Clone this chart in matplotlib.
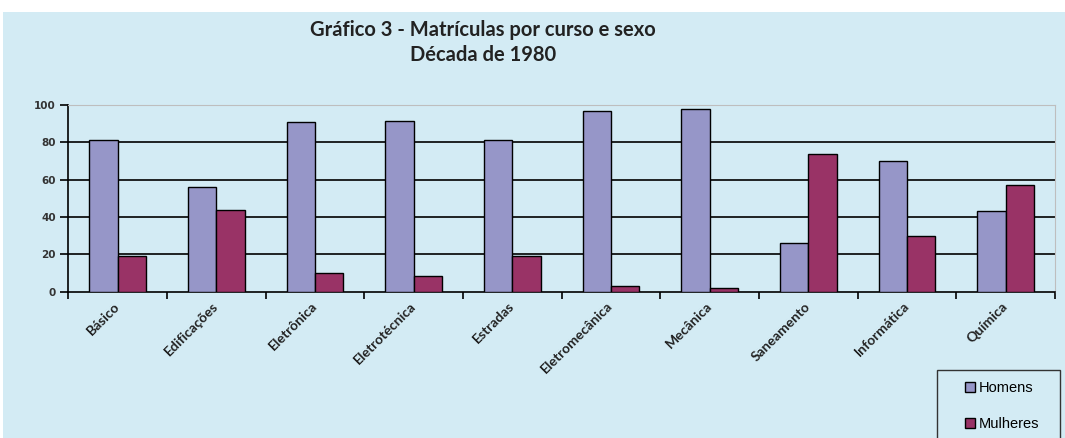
import numpy as np
import matplotlib
matplotlib.use("Agg")
import matplotlib.pyplot as plt
from matplotlib.patches import Rectangle

# data
cursos = ['Básico', 'Edificações', 'Eletrônica', 'Eletrotécnica', 'Estradas',
          'Eletromecânica', 'Mecânica', 'Saneamento', 'Informática', 'Química']
homens = [81, 56, 91, 91.5, 81, 97, 98, 26, 70, 43]
mulheres = [19, 44, 10, 8.5, 19, 3, 2, 74, 30, 57]
yticks = [0, 20, 40, 60, 80, 100]

bg = '#D3EBF4'
cor_h = '#9696C8'
cor_m = '#993366'

W, H = 1065, 438
fig = plt.figure(figsize=(W / 100, H / 100), dpi=100, facecolor='white')

# light blue chart area
fig.patches.append(Rectangle((3 / W, 0), 1, (H - 12) / H, transform=fig.transFigure,
                             facecolor=bg, edgecolor='none', zorder=-10))

ax = fig.add_axes([68.3 / W, (H - 291.7) / H, (1055 - 68.3) / W, (291.7 - 105) / H])
ax.set_facecolor(bg)

x = np.arange(len(cursos))
bw = 0.287
ax.bar(x - bw / 2, homens, bw, color=cor_h, edgecolor='black', linewidth=1.0, label='Homens', zorder=3)
ax.bar(x + bw / 2, mulheres, bw, color=cor_m, edgecolor='black', linewidth=1.0, label='Mulheres', zorder=3)

ax.set_xlim(-0.5, len(cursos) - 0.5)
ax.set_ylim(0, 100)
ax.set_yticks(yticks)
ax.set_yticklabels([str(v) for v in yticks], fontsize=7.5, fontweight='bold',
                   family='DejaVu Sans', color='#333333')
for v in yticks[1:-1]:
    ax.axhline(v, color='black', linewidth=1.2, zorder=1)

ax.set_xticks(np.arange(-0.5, len(cursos), 1))
ax.set_xticklabels([])
ax.set_xticks(x, minor=True)
ax.set_xticklabels(cursos, minor=True, rotation=45, ha='right', va='center',
                   rotation_mode='anchor', fontsize=10, fontweight='bold', family='Lato',
                   color='#222222')
ax.tick_params(axis='x', which='minor', length=0, pad=9)
ax.tick_params(axis='x', which='major', length=5, width=1.2, direction='out')
ax.tick_params(axis='y', length=6, width=1.2, direction='out', pad=3)

ax.spines['left'].set_linewidth(1.2)
ax.spines['bottom'].set_linewidth(1.2)
ax.spines['top'].set_color('#BEBEBE')
ax.spines['right'].set_color('#BEBEBE')

fig.text(483 / W, 1 - 30 / H, 'Gráfico 3 - Matrículas por curso e sexo', ha='center', va='center',
         fontsize=14.5, fontweight='bold', family='Lato', color='#222222')
fig.text(483 / W, 1 - 55 / H, 'Década de 1980', ha='center', va='center',
         fontsize=14.5, fontweight='bold', family='Lato', color='#222222')

# legend box (cut at the bottom like the original)
fig.patches.append(Rectangle((937 / W, -0.05), 123 / W, (H - 370) / H + 0.05, transform=fig.transFigure,
                             facecolor=bg, edgecolor='#333333', linewidth=1.0, zorder=5))
leg = fig.legend(loc='upper left', bbox_to_anchor=(952 / W, 1 - 368 / H), frameon=False,
                 handlelength=0.7, handleheight=0.7, handletextpad=0.2, labelspacing=1.5,
                 prop={'family': 'Liberation Sans', 'size': 10.5})
leg.set_zorder(6)

fig.savefig('out.png', dpi=100, facecolor='white')
